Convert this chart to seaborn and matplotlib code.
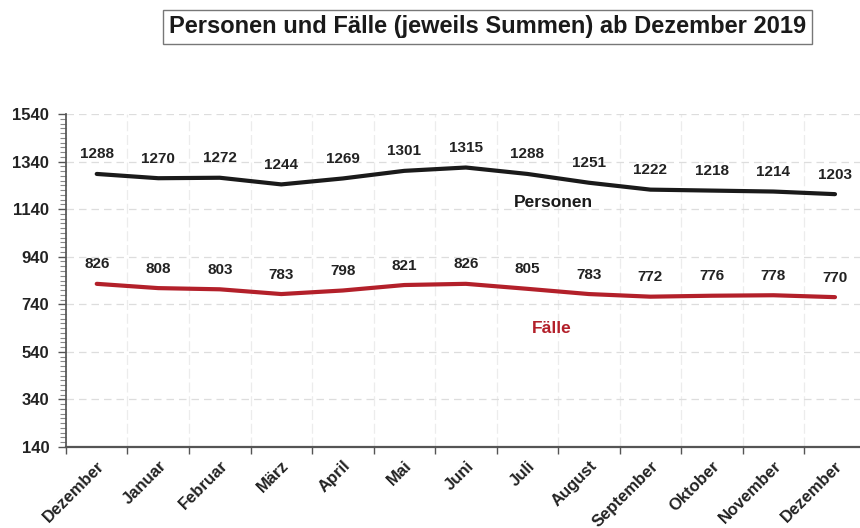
import matplotlib
matplotlib.use("Agg")
import matplotlib.pyplot as plt
import numpy as np
import pandas as pd
import seaborn as sns

monate = ["Dezember", "Januar", "Februar", "März", "April", "Mai", "Juni", "Juli",
          "August", "September", "Oktober", "November", "Dezember"]
personen = [1288, 1270, 1272, 1244, 1269, 1301, 1315, 1288, 1251, 1222, 1218, 1214, 1203]
faelle = [826, 808, 803, 783, 798, 821, 826, 805, 783, 772, 776, 778, 770]

sns.set_theme(style="white")
plt.rcParams["font.family"] = ["Liberation Sans", "DejaVu Sans"]

pos = np.arange(len(monate))
df = pd.DataFrame({"pos": pos, "Personen": personen, "Fälle": faelle})

fig = plt.figure(figsize=(8.6, 5.28), dpi=100)
ax = fig.add_axes([0.0767, 0.1534, 0.93, 0.6307])

sns.lineplot(data=df, x="pos", y="Personen", color="#1a1a1a", linewidth=3, ax=ax)
sns.lineplot(data=df, x="pos", y="Fälle", color="#b3202a", linewidth=3, ax=ax)

# Werte über den Punkten
for x, p, f in zip(pos, personen, faelle):
    ax.annotate(str(p), (x, p), xytext=(0, 9), textcoords="offset points",
                ha="center", va="bottom", fontsize=11, fontweight="bold", color="#222222")
    ax.annotate(str(f), (x, f), xytext=(0, 9), textcoords="offset points",
                ha="center", va="bottom", fontsize=11, fontweight="bold", color="#222222")

ax.text(7.42, 1170, "Personen", ha="center", va="center", fontsize=12.5, fontweight="bold", color="#1a1a1a")
ax.text(7.39, 640, "Fälle", ha="center", va="center", fontsize=12.5, fontweight="bold", color="#b3202a")

ax.set_xlim(-0.5, 12.36)
ax.set_ylim(140, 1540)
ax.set_yticks(np.arange(140, 1541, 200))
ax.set_yticks(np.arange(140, 1541, 20), minor=True)
ax.set_xticks(pos)
ax.set_xticklabels(monate, rotation=45, ha="right", rotation_mode="anchor",
                   fontsize=12, fontweight="bold", color="#222222")
ax.set_xticks(np.arange(-0.5, 12.6, 1), minor=True)
ax.tick_params(axis="both", which="both", bottom=True, left=True)
ax.tick_params(axis="x", which="major", length=0, pad=8)
ax.tick_params(axis="x", which="minor", length=5, width=1, color="#555555", direction="out")
ax.tick_params(axis="y", which="major", length=6, width=1, color="#555555", direction="out",
               labelsize=12, labelcolor="#222222", pad=6)
ax.tick_params(axis="y", which="minor", length=4, width=0.8, color="#888888", direction="out")
for lab in ax.get_yticklabels():
    lab.set_fontweight("bold")

ax.grid(False)
ax.yaxis.grid(True, which="major", linestyle=(0, (6, 4)), color="#dddddd", linewidth=0.9)
ax.xaxis.grid(True, which="minor", linestyle=(0, (8, 3)), color="#ececec", linewidth=0.9)
ax.set_axisbelow(True)

sns.despine(ax=ax, top=True, right=True)
ax.spines["left"].set_color("#555555")
ax.spines["bottom"].set_color("#555555")
ax.spines["bottom"].set_linewidth(1.6)
ax.set_xlabel("")
ax.set_ylabel("")

fig.text(0.567, 0.949, "Personen und Fälle (jeweils Summen) ab Dezember 2019",
         ha="center", va="center", fontsize=17, fontweight="bold", color="#1a1a1a",
         bbox=dict(boxstyle="square,pad=0.25", facecolor="white", edgecolor="#777777", linewidth=1))

fig.savefig("out.png", dpi=100)
